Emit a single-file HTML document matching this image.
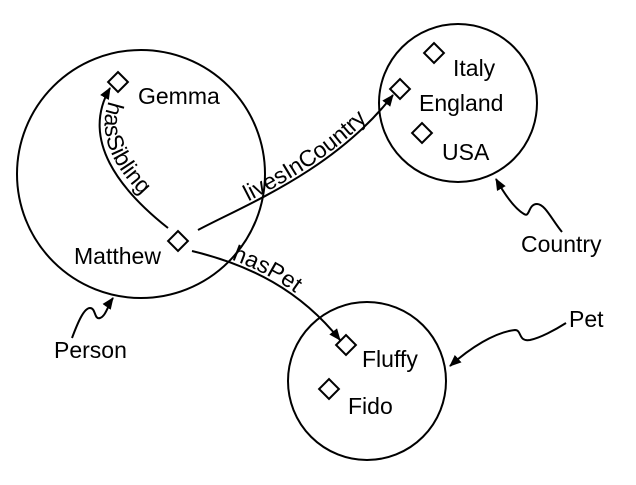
<!DOCTYPE html>
<html><head><meta charset="utf-8"><style>
html,body{margin:0;padding:0;background:#fff;}
svg{display:block;font-family:"Liberation Sans",sans-serif;}
text{font-size:23px;fill:#000;}
</style></head><body>
<svg width="636" height="485" viewBox="0 0 636 485" xmlns="http://www.w3.org/2000/svg">
<defs>
<marker id="ar" markerWidth="12" markerHeight="10" refX="11" refY="5" orient="auto" markerUnits="userSpaceOnUse">
<path d="M0,0 L12,5 L0,10 Z" fill="#000"/>
</marker>
<path id="pSib" d="M168,228 C120,190 80,140 110,88"/>
<path id="pSibT" d="M114,90 C86,140 126,186 172,222"/>
<path id="pLiv" d="M198,230 C245,205 335,170 393,95"/>
<path id="pPet" d="M192,251 C250,265 300,290 340,340"/>
</defs>
<g fill="none" stroke="#000" stroke-width="2">
<circle cx="141" cy="174" r="124"/>
<circle cx="458" cy="103" r="79"/>
<circle cx="367" cy="381" r="79"/>
<use href="#pSib" marker-end="url(#ar)"/>
<use href="#pLiv" marker-end="url(#ar)"/>
<use href="#pPet" marker-end="url(#ar)"/>
<path d="M72,338 C78,322 84,308 90,308 C96,308 94,320 100,318 C106,316 108,305 113,298" marker-end="url(#ar)"/>
<path d="M562,232 C552,220 545,204 537,204 C528,204 530,218 524,214 C514,208 505,195 496,179" marker-end="url(#ar)"/>
<path d="M566,323 C555,330 540,338 530,340 C518,342 522,330 515,330 C495,332 470,348 450,366" marker-end="url(#ar)"/>
</g>
<g fill="#fff" stroke="#000" stroke-width="2">
<rect x="-7" y="-7" width="14" height="14" transform="translate(118,82) rotate(45)"/>
<rect x="-7" y="-7" width="14" height="14" transform="translate(178,241) rotate(45)"/>
<rect x="-7" y="-7" width="14" height="14" transform="translate(400,89) rotate(45)"/>
<rect x="-7" y="-7" width="14" height="14" transform="translate(434,53) rotate(45)"/>
<rect x="-7" y="-7" width="14" height="14" transform="translate(422,133) rotate(45)"/>
<rect x="-7" y="-7" width="14" height="14" transform="translate(346,345) rotate(45)"/>
<rect x="-7" y="-7" width="14" height="14" transform="translate(329,389) rotate(45)"/>
</g>
<text x="138" y="104">Gemma</text>
<text x="74" y="264">Matthew</text>
<text x="453" y="76">Italy</text>
<text x="419" y="111">England</text>
<text x="442" y="160">USA</text>
<text x="362" y="367">Fluffy</text>
<text x="348" y="414">Fido</text>
<text x="54" y="358">Person</text>
<text x="521" y="252">Country</text>
<text x="569" y="327">Pet</text>
<text><textPath href="#pSibT" startOffset="12">hasSibling</textPath></text>
<text dy="-3"><textPath href="#pLiv" startOffset="58">livesInCountry</textPath></text>
<text dy="-3"><textPath href="#pPet" startOffset="40">hasPet</textPath></text>
</svg>
</body></html>
